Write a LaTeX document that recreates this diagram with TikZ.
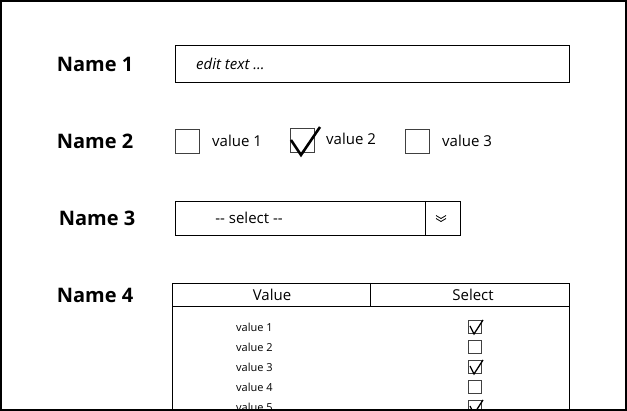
\documentclass[tikz,border=0pt]{standalone}
\usepackage{fontspec}
\setmainfont{Open Sans}
\begin{document}
\begin{tikzpicture}[x=1pt,y=-1pt,
  lbl/.style={font=\fontsize{20}{24}\selectfont\bfseries, inner sep=0pt},
  txt/.style={font=\fontsize{15}{18}\selectfont, inner sep=0pt},
  small/.style={font=\fontsize{11}{13}\selectfont, inner sep=0pt, anchor=west},
  frame/.style={draw=black, line width=0.8pt},
  cbox/.style={draw=black!75, line width=0.8pt},
  tick/.style={line width=2.6pt, line join=miter},
  smalltick/.style={line width=1.3pt}]
\useasboundingbox (0,0) rectangle (627,411);
\begin{scope}
\clip (0,0) rectangle (627,411);
% labels
\node[lbl] (n1) at (95,64) {Name 1};
\node[lbl] (n2) at (95,141) {Name 2};
\node[lbl] (n3) at (97,218) {Name 3};
\node[lbl] (n4) at (95,295) {Name 4};
% edit box
\draw[frame] (175,45) rectangle (569,82);
\node[txt, anchor=west, font=\fontsize{15}{18}\selectfont\itshape] (et) at (196,64) {edit text ...};
% checkboxes
\draw[cbox] (175,129) rectangle (199,153);
\node[txt, anchor=west] (v1) at (212,141) {value 1};
\draw[cbox] (290,128) rectangle (314,152);
\draw[tick] (291,140) -- (301,155) -- (320,127);
\node[txt, anchor=west] (v2) at (326,139) {value 2};
\draw[cbox] (405,129) rectangle (429,153);
\node[txt, anchor=west] (v3) at (442,141) {value 3};
% dropdown
\draw[frame] (175,201) rectangle (460,235);
\draw[frame] (425,201) -- (425,235);
\node[txt] (sel) at (249,218) {{-}{-} select {-}{-}};
\draw[line width=0.8pt] (436,215.5) -- (441,218.5) -- (446,215.5);
\draw[line width=0.8pt] (436,218.5) -- (441,221.5) -- (446,218.5);
% table
\draw[frame] (172,283) rectangle (569,306);
\draw[frame] (370,283) -- (370,306);
\draw[frame] (172,306) -- (172,420);
\draw[frame] (569,306) -- (569,420);
\node[txt] (hv) at (272,295) {Value};
\node[txt] (hs) at (473,295) {Select};
\foreach \i/\y in {1/327,2/347,3/367,4/387,5/407}{
  \node[small] (r\i) at (236,\y) {value \i};
  \draw[cbox] (468,\y-6.5) rectangle (481,\y+6.5);
}
\foreach \y in {327,367,407}{
  \draw[smalltick] (470,\y-1) -- (474,\y+7) -- (483,\y-7);
}
\end{scope}
\draw[line width=2pt] (1,1) rectangle (626,410);
\end{tikzpicture}
\end{document}
